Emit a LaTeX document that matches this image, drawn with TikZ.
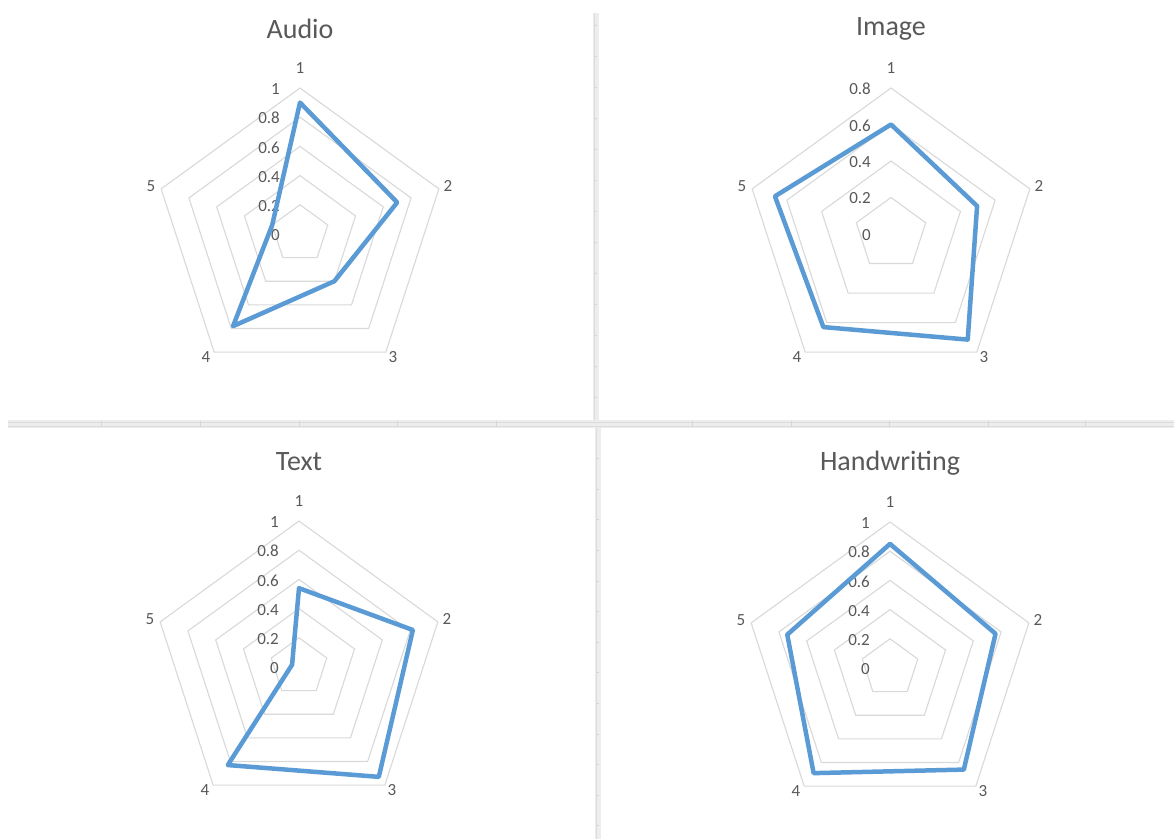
\documentclass[tikz,border=0pt]{standalone}
\usepackage{fontspec}
\setmainfont{Carlito}
\definecolor{gridc}{HTML}{D9D9D9}
\definecolor{serc}{HTML}{5B9BD5}
\definecolor{txtc}{HTML}{595959}
\definecolor{divc}{HTML}{EDEDED}
\definecolor{divl}{HTML}{DCDCDC}
\definecolor{tickc}{HTML}{D6D6D6}
\tikzset{
  gridring/.style={draw=gridc, line width=1.1pt, line join=miter},
  series/.style={draw=serc, line width=4.5pt, line join=round},
  charttitle/.style={text=txtc, font=\fontsize{28}{30}\selectfont, inner sep=0pt},
  axlabel/.style={text=txtc, font=\fontsize{17}{19}\selectfont, inner sep=0pt},
  vallabel/.style={text=txtc, font=\fontsize{17}{19}\selectfont, inner sep=0pt, anchor=east},
  divband/.style={fill=divc, draw=none},
  divline/.style={draw=divl, line width=0.7pt},
  divtick/.style={draw=tickc, line width=0.8pt},
}
% #1 prefix, #2 number of rings, #3 title, #4 value labels, #5 data (fraction of max)
\newcommand\radarchart[5]{%
  \foreach \i in {1,...,#2} {
    \pgfmathsetmacro\rr{146*\i/#2}
    \draw[gridring] (0,-\rr) \foreach \k in {1,...,4} { -- ({\rr*cos(90-72*\k)},{-\rr*sin(90-72*\k)}) } -- cycle;
  }
  \foreach \lab [count=\i from 0] in {#4} {
    \node[vallabel] (#1-v\i) at (-20,{-146*\i/#2+1}) {\lab};
  }
  \node[charttitle] (#1-title) at (0,-205) {#3};
  \node[axlabel] (#1-a1) at (0,-166) {1};
  \node[axlabel] (#1-a2) at (148,-48) {2};
  \node[axlabel] (#1-a3) at (93,123) {3};
  \node[axlabel] (#1-a4) at (-94,123) {4};
  \node[axlabel] (#1-a5) at (-149,-48) {5};
  \foreach \v [count=\k from 0] in {#5} {
    \coordinate (#1-p\k) at ({146*\v*cos(90-72*\k)},{-146*\v*sin(90-72*\k)});
  }
  \draw[series] (#1-p0) -- (#1-p1) -- (#1-p2) -- (#1-p3) -- (#1-p4) -- cycle;
}
\begin{document}
\begin{tikzpicture}[x=1pt,y=-1pt]
  \useasboundingbox (0,0) rectangle (1174,839);
  \fill[white] (0,0) rectangle (1174,839);
  % dividers
  \fill[divband] (8,420) rectangle (1174,428);
  \draw[divline] (8,422.3) -- (1174,422.3);
  \draw[divline] (8,426) -- (1174,426);
  \fill[divband] (592.5,13) rectangle (598.5,420);
  \draw[divline] (594.3,13) -- (594.3,420);
  \fill[divband] (594.5,428) rectangle (600.5,839);
  \draw[divline] (596.5,428) -- (596.5,839);
  \foreach \x in {101,200,299,397,496,692,791,889,988,1085}
    \draw[divtick] (\x,421) -- (\x,427);
  \foreach \y in {25,56,...,400}
    \draw[divtick] (594,\y) -- (597,\y);
  \foreach \y in {458.6,489.2,...,830}
    \draw[divtick] (596,\y) -- (599,\y);
  % charts
  \begin{scope}[shift={(300,234)}]
    \radarchart{audio}{5}{Audio}{0,0.2,0.4,0.6,0.8,1}{0.9,0.7,0.4,0.78,0.2}
  \end{scope}
  \begin{scope}[shift={(891,234)}]
    \radarchart{image}{4}{Image}{0,0.2,0.4,0.6,0.8}{0.75,0.62,0.894,0.788,0.836}
  \end{scope}
  \begin{scope}[shift={(299,667)}]
    \radarchart{text}{5}{Text}{0,0.2,0.4,0.6,0.8,1}{0.54,0.82,0.93,0.83,0.05}
  \end{scope}
  \begin{scope}[shift={(890,668)}]
    \radarchart{hand}{5}{Handwriting}{0,0.2,0.4,0.6,0.8,1}{0.85,0.76,0.86,0.89,0.74}
  \end{scope}
\end{tikzpicture}
\end{document}
